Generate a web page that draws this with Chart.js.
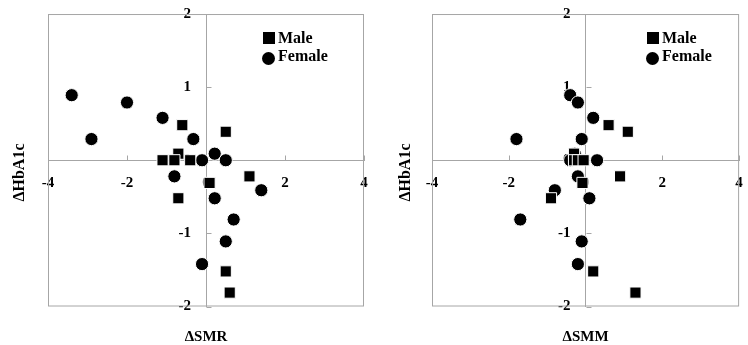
<!DOCTYPE html>
<html>
<head>
<meta charset="utf-8">
<script src="https://cdn.jsdelivr.net/npm/chart.js@4.4.0/dist/chart.umd.min.js"></script>
<style>
  body { margin: 0; background: #fff; }
  .panel { position: absolute; top: 0; width: 374px; height: 345px; }
  .legend { position: absolute; top: 0; font: bold 16px 'Liberation Serif', 'Times New Roman', serif; color: #000; }
  .legend .mark { position: absolute; background: #000; }
  .legend .txt { position: absolute; left: 15px; line-height: 16px; white-space: nowrap; }
</style>
</head>
<body>
<div class="panel" style="left:0">
  <canvas id="smrChart" width="374" height="345"></canvas>
  <div class="legend" id="legendSmr" style="left:263px"></div>
</div>
<div class="panel" style="left:374px">
  <canvas id="smmChart" width="374" height="345"></canvas>
  <div class="legend" id="legendSmm" style="left:273px"></div>
</div>
<script>
// change in HbA1c (shared y values), per subject
const maleDHbA1c   = [0.48, 0.39, 0.09, 0, 0, 0, -0.22, -0.31, -0.52, -1.52, -1.81];
const femaleDHbA1c = [0.89, 0.29, 0.79, 0.58, 0.29, -0.22, 0, 0.09, 0, -0.52, -0.41, -0.81, -1.11, -1.42];

// change in SMR (left panel)
const maleDSMR   = [-0.6, 0.5, -0.7, -1.1, -0.8, -0.4, 1.1, 0.09, -0.7, 0.5, 0.6];
const femaleDSMR = [-3.4, -2.9, -2.0, -1.1, -0.32, -0.8, -0.1, 0.22, 0.5, 0.22, 1.4, 0.7, 0.5, -0.1];

// change in SMM (right panel)
const maleDSMM   = [0.6, 1.1, -0.3, -0.3, -0.2, -0.05, 0.9, -0.08, -0.9, 0.2, 1.3];
const femaleDSMM = [-0.4, -1.8, -0.2, 0.2, -0.1, -0.2, 0.3, -0.28, -0.4, 0.1, -0.8, -1.7, -0.1, -0.2];

const seriesNames = ["Male", "Female"];
const yTitle = "ΔHbA1c";
const xTitles = ["ΔSMR", "ΔSMM"];

const lineGrey = "#a6a6a6";
const serif = "'Liberation Serif', 'Times New Roman', serif";

const framePlugin = {
    id: "frame",
    beforeDatasetsDraw(chart) {
        const { ctx, chartArea: a, scales: { x, y } } = chart;
        ctx.save();
        ctx.strokeStyle = lineGrey;
        ctx.lineWidth = 1;
        ctx.strokeRect(a.left + 0.5, a.top + 0.5, a.width - 1, a.height - 1);
        const x0 = Math.round(x.getPixelForValue(0)) + 0.5;
        const y0 = Math.round(y.getPixelForValue(0)) + 0.5;
        ctx.beginPath();
        x.ticks.forEach(t => {
            const px = Math.round(x.getPixelForValue(t.value)) + 0.5;
            ctx.moveTo(px, y0);
            ctx.lineTo(px, y0 - 5);
        });
        y.ticks.forEach(t => {
            const py = Math.round(y.getPixelForValue(t.value)) + 0.5;
            ctx.moveTo(x0, py);
            ctx.lineTo(x0 + 5, py);
        });
        ctx.stroke();
        ctx.restore();
    }
};

function toPoints(xs, ys) {
    return xs.map((v, i) => ({ x: v, y: ys[i] }));
}

function makeChart(id, xTitle, maleX, femaleX, lay) {
    const ctx = document.getElementById(id).getContext("2d");
    return new Chart(ctx, {
        type: "scatter",
        data: {
            datasets: [
                {
                    label: seriesNames[0],
                    data: toPoints(maleX, maleDHbA1c),
                    pointStyle: "rect",
                    pointRadius: 7.9,
                    pointHoverRadius: 7.9,
                    backgroundColor: "#000",
                    borderColor: "#fff",
                    borderWidth: 1
                },
                {
                    label: seriesNames[1],
                    data: toPoints(femaleX, femaleDHbA1c),
                    pointStyle: "circle",
                    pointRadius: 6.6,
                    pointHoverRadius: 6.6,
                    backgroundColor: "#000",
                    borderColor: "#fff",
                    borderWidth: 1
                }
            ]
        },
        options: {
            responsive: false,
            animation: false,
            events: [],
            layout: { padding: { left: 0, right: lay.right, top: 0, bottom: 0 } },
            plugins: {
                legend: { display: false },
                tooltip: { enabled: false },
                title: {
                    display: true,
                    text: yTitle,
                    position: "left",
                    color: "#000",
                    font: { family: serif, size: 16, weight: "bold", lineHeight: 1.2 },
                    padding: { top: lay.titleTop, bottom: lay.titleBottom }
                },
                subtitle: {
                    display: true,
                    text: xTitle,
                    position: "bottom",
                    fullSize: false,
                    color: "#000",
                    font: { family: serif, size: 15, weight: "bold", lineHeight: 1.1 },
                    padding: { top: 22, bottom: 0 }
                }
            },
            scales: {
                x: {
                    type: "linear",
                    min: -4,
                    max: 4,
                    position: { y: 0 },
                    ticks: {
                        stepSize: 2,
                        padding: 0,
                        color: "#000",
                        font: { family: serif, size: 15, weight: "bold" }
                    },
                    grid: { display: false, drawTicks: true, tickLength: 14 },
                    border: { display: true, color: lineGrey, width: 1 }
                },
                y: {
                    type: "linear",
                    min: -2,
                    max: 2,
                    position: { x: 0 },
                    ticks: {
                        stepSize: 1,
                        padding: 0,
                        color: "#000",
                        font: { family: serif, size: 15, weight: "bold", lineHeight: 1.87 },
                        // centred axes ignore tick padding, so keep the gap with two en spaces
                        callback: v => v + "\u2002\u2002"
                    },
                    grid: { display: false, drawTicks: true, tickLength: 15 },
                    border: { display: true, color: lineGrey, width: 1 }
                }
            }
        },
        plugins: [framePlugin]
    });
}

function buildLegend(elId) {
    const el = document.getElementById(elId);
    const marks = [
        "left:0;top:32px;width:12px;height:12px;",
        "left:-1px;top:52px;width:13px;height:13px;border-radius:50%;"
    ];
    const textTops = [30, 48];
    seriesNames.forEach((name, i) => {
        const m = document.createElement("div");
        m.className = "mark";
        m.style.cssText = marks[i];
        el.appendChild(m);
        const t = document.createElement("div");
        t.className = "txt";
        t.style.top = textTops[i] + "px";
        t.innerText = name;
        el.appendChild(t);
    });
}

makeChart("smrChart", xTitles[0], maleDSMR, femaleDSMR, { right: 10, titleTop: 10.4, titleBottom: 18.4 });
makeChart("smmChart", xTitles[1], maleDSMM, femaleDSMM, { right: 2, titleTop: 22.4, titleBottom: 16.4 });
buildLegend("legendSmr");
buildLegend("legendSmm");
</script>
</body>
</html>
